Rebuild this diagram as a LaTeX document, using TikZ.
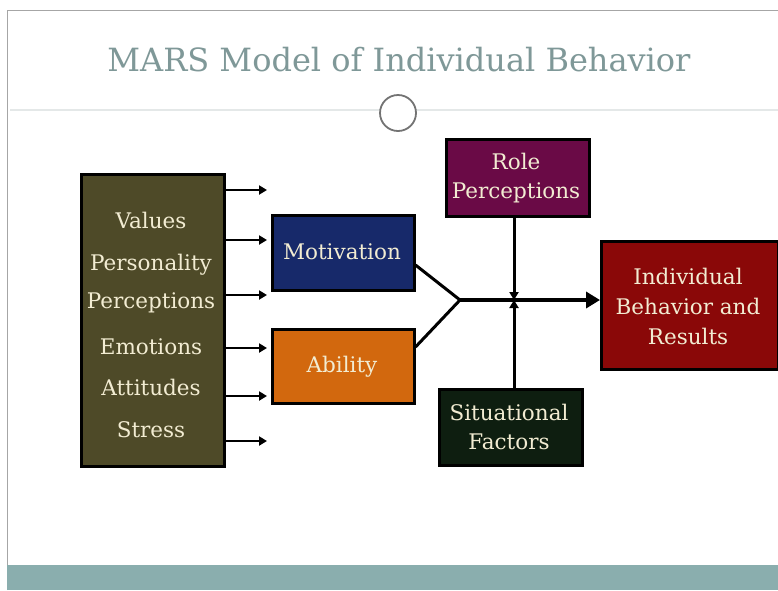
\documentclass[tikz,border=0pt]{standalone}
\usepackage{fontspec}
\setmainfont{DejaVu Serif}
\usetikzlibrary{arrows.meta}
\definecolor{titlec}{HTML}{7F9898}
\definecolor{bandc}{HTML}{8AAEAE}
\definecolor{olivec}{HTML}{4E4A28}
\definecolor{creamc}{HTML}{F2ECD2}
\definecolor{bluec}{HTML}{17296A}
\definecolor{orangec}{HTML}{D2680E}
\definecolor{purplec}{HTML}{6A0A46}
\definecolor{greenc}{HTML}{0E1E10}
\definecolor{redc}{HTML}{8A0808}
\definecolor{linec}{HTML}{E4E8E8}
\begin{document}
\begin{tikzpicture}[x=1pt,y=-1pt,
  box/.style={draw=black,line width=2.5pt,inner sep=0pt,text=creamc,align=center},
  lbl/.style={text=creamc,align=center,font=\fontsize{21.5}{29}\selectfont},
  smallarrow/.style={line width=2.5pt,-{Triangle[length=8pt,width=9pt]}},
  bigarrow/.style={line width=4.5pt,-{Triangle[length=14pt,width=16pt]}},
  vertarrow/.style={line width=3pt,-{Triangle[length=8pt,width=9pt]}}]
\useasboundingbox (0,0) rectangle (778,590);
\fill[white] (0,0) rectangle (778,590);
% frame
\draw[gray!70,line width=1pt] (7,590) -- (7,10) -- (778,10);
\fill[bandc] (7,565) rectangle (778,590);
\draw[linec,line width=1.5pt] (10,110) -- (778,110);
\node[text=titlec,font=\fontsize{32}{36}\selectfont] (title) at (399,60) {MARS Model of Individual Behavior};
\node[circle,draw=gray!90!black,line width=1.8pt,fill=white,minimum size=36pt,inner sep=0pt] (circ) at (398,113) {};
% left box
\node[box,fill=olivec,minimum width=143pt,minimum height=292pt,anchor=north west] (left) at (80,173) {};
\foreach \t/\y in {Values/220,Personality/265,Perceptions/303,Emotions/347,Attitudes/387,Stress/430}
  \node[lbl] at (151,\y) {\t};
\foreach \y [count=\i] in {190,240,295,348,396,441}{
  \coordinate (s\i) at (224,\y);
  \coordinate (e\i) at (267,\y);
  \draw[smallarrow] (s\i) -- (e\i);
}
% Motivation / Ability
\node[box,fill=bluec,minimum width=142pt,minimum height=75pt,anchor=north west] (mot) at (271,214) {};
\node[lbl] at (342,252) {Motivation};
\node[box,fill=orangec,minimum width=142pt,minimum height=74pt,anchor=north west] (abi) at (271,328) {};
\node[lbl] at (342,367) {Ability};
% Role perceptions
\node[box,fill=purplec,minimum width=143pt,minimum height=77pt,anchor=north west] (role) at (445,138) {};
\node[lbl] at (516,178) {Role\\Perceptions};
% Situational
\node[box,fill=greenc,minimum width=143pt,minimum height=76pt,anchor=north west] (sit) at (438,388) {};
\node[lbl] at (509,427) {Situational\\Factors};
% Result
\node[box,fill=redc,minimum width=177pt,minimum height=128pt,anchor=north west] (res) at (600,240) {};
\node[lbl,font=\fontsize{21.5}{30}\selectfont] at (688,306) {Individual\\Behavior and\\Results};
% connectors
\coordinate (j) at (460,300);
\coordinate (x) at (514,300);
\draw[line width=3pt] (mot.east |- 0,265) -- (j);
\draw[line width=3pt] (abi.east |- 0,347) -- (j);
\draw[bigarrow] (j) -- (res.west |- j);
\draw[vertarrow] (role.south -| x) -- (x);
\draw[vertarrow] (sit.north -| x) -- (x);
\end{tikzpicture}
\end{document}
